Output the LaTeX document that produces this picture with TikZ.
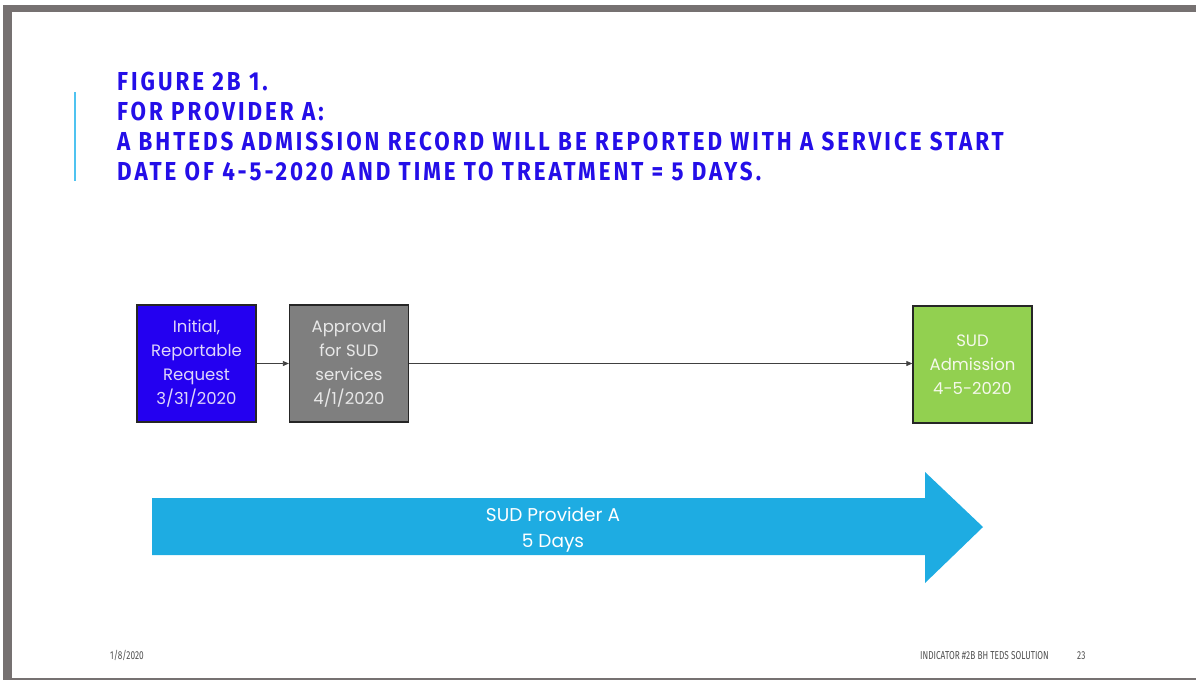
\documentclass[tikz,border=0pt]{standalone}
\usepackage{fontspec}
\usetikzlibrary{arrows.meta}
\setmainfont{Poppins}
\newfontfamily\titlefont[FakeStretch=0.86,LetterSpace=11.5]{Fira Sans}
\newfontfamily\boxfont{Poppins}
\newfontfamily\footfont[FakeStretch=0.72]{Fira Sans}
\definecolor{framegray}{RGB}{118,113,113}
\definecolor{titleblue}{RGB}{36,14,232}
\definecolor{accentblue}{RGB}{79,195,240}
\definecolor{boxblue}{RGB}{36,0,240}
\definecolor{boxgray}{RGB}{127,127,127}
\definecolor{boxgreen}{RGB}{146,208,80}
\definecolor{arrowblue}{RGB}{30,172,226}
\definecolor{foottext}{RGB}{80,80,80}
\tikzset{
  titleline/.style={anchor=base west, inner sep=0pt, text=titleblue, font=\titlefont\bfseries\fontsize{26}{30}\selectfont},
  stepbox/.style={draw=black!85, line width=1.3pt, minimum width=119pt, minimum height=117pt, inner sep=0pt, align=center, font=\boxfont\fontsize{16.5}{24}\selectfont},
  conn/.style={draw=black!75, line width=0.8pt, -{Triangle[length=6pt,width=5pt]}},
  foot/.style={anchor=base west, inner sep=0pt, text=foottext, font=\footfont\fontsize{11.5}{12}\selectfont},
}
\begin{document}
\begin{tikzpicture}[x=1pt,y=-1pt]
\useasboundingbox (0,0) rectangle (1196,680);
% slide frame
\fill[framegray] (3,5) rectangle (1196,12);
\fill[framegray] (3,5) rectangle (12,680);
\fill[framegray] (3,677.5) rectangle (1196,680);
% accent bar
\draw[accentblue, line width=2.2pt] (75,92) -- (75,181);
% title
\node[titleline] (t1) at (117,90) {FIGURE 2B 1.};
\node[titleline] (t2) at (117,120) {FOR PROVIDER A:};
\node[titleline] (t3) at (117,150) {A BHTEDS ADMISSION RECORD WILL BE REPORTED WITH A SERVICE START};
\node[titleline] (t4) at (117,180) {DATE OF 4-5-2020 AND TIME TO TREATMENT = 5 DAYS.};
% boxes
\node[stepbox, fill=boxblue, text={rgb,255:red,222;green,214;blue,250}] (req) at (196.5,363.5) {Initial,\\Reportable\\Request\\3/31/2020};
\node[stepbox, fill=boxgray, text={rgb,255:red,232;green,232;blue,232}] (appr) at (349,363.5) {Approval\\for SUD\\services\\4/1/2020};
\node[stepbox, fill=boxgreen, text={rgb,255:red,245;green,248;blue,235}] (adm) at (972.5,364.5) {SUD\\Admission\\4-5-2020};
\draw[conn] (req.east) -- (appr.west);
\draw[conn] (appr.east) -- (adm.west |- appr.east);
% big arrow
\coordinate (a1) at (152,498);
\coordinate (a2) at (925,498);
\coordinate (a3) at (925,472);
\coordinate (a4) at (983,527);
\coordinate (a5) at (925,583);
\coordinate (a6) at (925,555);
\coordinate (a7) at (152,555);
\fill[arrowblue] (a1) -- (a2) -- (a3) -- (a4) -- (a5) -- (a6) -- (a7) -- cycle;
\node[align=center, text=white, inner sep=0pt, font=\boxfont\fontsize{18.5}{26}\selectfont] (prov) at (553,530) {SUD Provider A\\5 Days};
% footer
\node[foot] (f1) at (110,659) {1/8/2020};
\node[foot] (f2) at (920,659) {INDICATOR \#2B BH TEDS SOLUTION};
\node[foot] (f3) at (1077,659) {23};
\end{tikzpicture}
\end{document}
